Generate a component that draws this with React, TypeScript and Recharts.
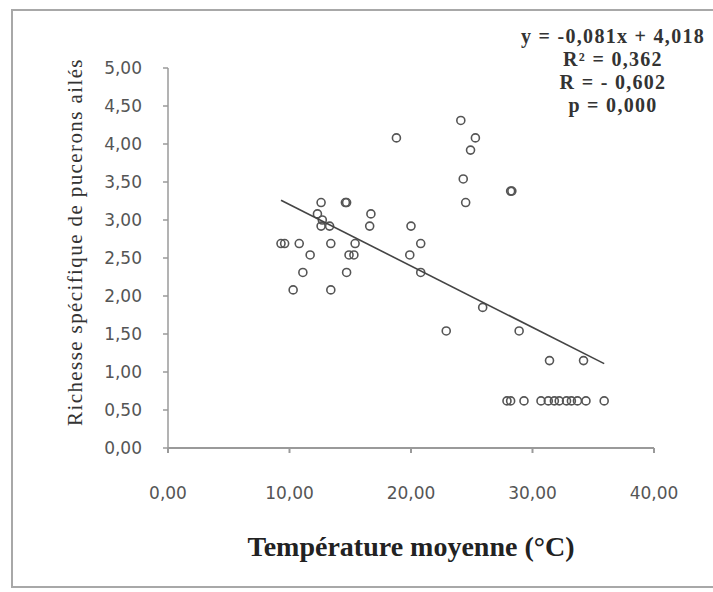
import { ScatterChart, Scatter, XAxis, YAxis } from 'recharts';

// Température moyenne (°C) vs richesse spécifique de pucerons ailés
const temperature = [
  24.1, 25.3, 18.8, 24.9, 24.3, 28.2, 28.3, 24.5, 12.6, 14.6,
  14.7, 12.3, 12.7, 16.7, 12.6, 13.3, 16.6, 20.0, 9.3, 9.6,
  10.8, 13.4, 15.4, 20.8, 11.7, 14.9, 15.3, 19.9, 11.1, 14.7,
  20.8, 10.3, 13.4, 25.9, 22.9, 28.9, 31.4, 34.2, 27.9, 28.2,
  29.3, 30.7, 31.3, 31.8, 32.2, 32.8, 33.2, 33.7, 34.4, 35.9,
];
const richness = [
  4.31, 4.08, 4.08, 3.92, 3.54, 3.38, 3.38, 3.23, 3.23, 3.23,
  3.23, 3.08, 3.0, 3.08, 2.92, 2.92, 2.92, 2.92, 2.69, 2.69,
  2.69, 2.69, 2.69, 2.69, 2.54, 2.54, 2.54, 2.54, 2.31, 2.31,
  2.31, 2.08, 2.08, 1.85, 1.54, 1.54, 1.15, 1.15, 0.62, 0.62,
  0.62, 0.62, 0.62, 0.62, 0.62, 0.62, 0.62, 0.62, 0.62, 0.62,
];

// linear trend end points (as drawn)
const trendX = [9.3, 35.9];
const trendY = [3.26, 1.11];

const xTicks = [0, 10, 20, 30, 40];
const yTicks = [0, 0.5, 1, 1.5, 2, 2.5, 3, 3.5, 4, 4.5, 5];

const equationLines = ['y = -0,081x + 4,018', 'R² = 0,362', 'R = - 0,602', 'p = 0,000'];

const points = temperature.map((t, i) => ({ t, r: richness[i] }));
const trend = trendX.map((t, i) => ({ t, r: trendY[i] }));

const fmt = (v: number) => v.toFixed(2).replace('.', ',');

const RingDot = (props: any) => {
  const { cx, cy } = props;
  if (cx == null || cy == null) return null;
  return <circle cx={cx} cy={cy} r={4} fill="none" stroke="#555" strokeWidth={1.6} />;
};

const tickStyle = { fill: '#555', fontSize: 17, fontFamily: 'DejaVu Sans' };

export default function App() {
  return (
    <div style={{ position: 'absolute', left: 0, top: 0, width: 713, height: 592, overflow: 'hidden', background: '#fff' }}>
      <div
        style={{
          position: 'absolute',
          left: 11,
          top: 9,
          width: 720,
          height: 575,
          border: '2px solid #a8a8a8',
        }}
      />
      <ScatterChart
        width={713}
        height={592}
        margin={{ top: 68, right: 59, bottom: 104, left: 108 }}
        style={{ position: 'absolute', left: 0, top: 0 }}
      >
        <XAxis
          type="number"
          dataKey="t"
          domain={[0, 40]}
          ticks={xTicks}
          tickFormatter={fmt}
          height={40}
          tick={tickStyle}
          tickSize={5}
          tickMargin={34}
          stroke="#9a9a9a"
          strokeWidth={2}
          allowDataOverflow
        />
        <YAxis
          type="number"
          dataKey="r"
          domain={[0, 5]}
          ticks={yTicks}
          tickFormatter={fmt}
          width={60}
          tick={tickStyle}
          tickSize={5}
          tickMargin={21}
          stroke="#9a9a9a"
          strokeWidth={1.5}
          allowDataOverflow
        />
        <Scatter data={points} shape={<RingDot />} isAnimationActive={false} />
        <Scatter
          data={trend}
          line={{ stroke: '#444', strokeWidth: 1.6 }}
          shape={() => null}
          isAnimationActive={false}
        />
      </ScatterChart>

      <div
        style={{
          position: 'absolute',
          left: 75,
          top: 242,
          transform: 'translate(-50%, -50%) rotate(-90deg)',
          whiteSpace: 'nowrap',
          fontFamily: 'Liberation Serif',
          fontSize: 21,
          letterSpacing: 1.4,
          color: '#333',
        }}
      >
        Richesse spécifique de pucerons ailés
      </div>

      <div
        style={{
          position: 'absolute',
          left: 411,
          top: 547,
          transform: 'translate(-50%, -50%)',
          whiteSpace: 'nowrap',
          fontFamily: 'Liberation Serif',
          fontWeight: 'bold',
          fontSize: 28,
          color: '#222',
        }}
      >
        Température moyenne (°C)
      </div>

      <div
        style={{
          position: 'absolute',
          left: 493,
          top: 25,
          width: 240,
          textAlign: 'center',
          fontFamily: 'Liberation Serif',
          fontWeight: 'bold',
          fontSize: 20,
          letterSpacing: 1.3,
          lineHeight: '23px',
          color: '#333',
        }}
      >
        {equationLines.map((l) => (
          <div key={l}>{l}</div>
        ))}
      </div>
    </div>
  );
}
